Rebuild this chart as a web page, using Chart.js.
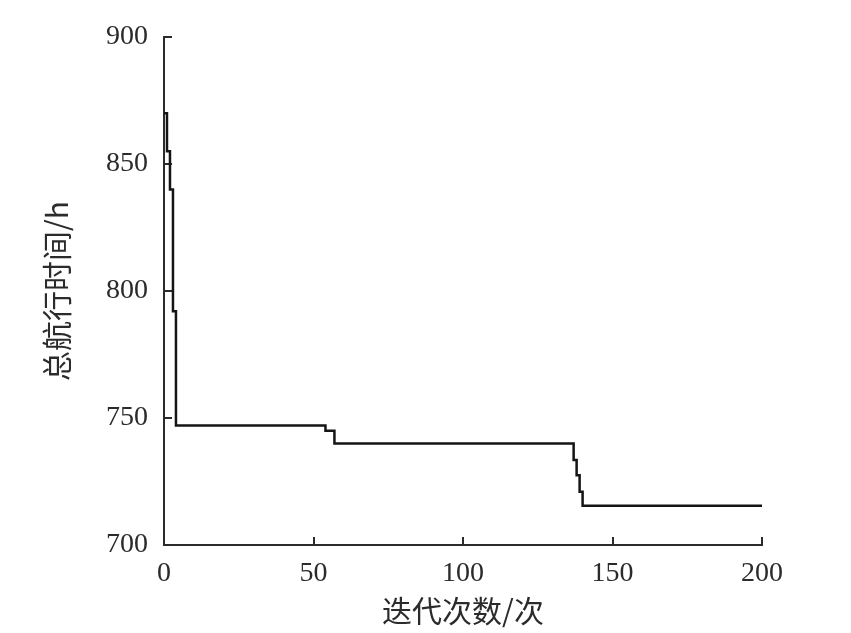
<!DOCTYPE html>
<html>
<head>
<meta charset="utf-8">
<script src="https://cdn.jsdelivr.net/npm/chart.js@4"></script>
<style>
  body { margin: 0; background: #fff; }
  #wrap { width: 851px; height: 633px; }
</style>
</head>
<body>
<div id="wrap"><canvas id="chart"></canvas></div>
<script>
// iteration where the best value changes, and the new best value
const iterations = [0, 1, 2, 3, 4, 54, 57, 137, 138, 139, 140, 200];
const totalTime = [870, 855, 840, 792, 747, 745, 740, 733.5, 727.5, 721, 715.5, 715.5];
const xTitle = '迭代次数/次';
const yTitle = '总航行时间/h';

const axisColor = '#2b2b2b';
const tickFont = { family: "'Liberation Serif', serif", size: 28 };
const titleFont = { family: "'Noto Sans CJK SC', sans-serif", size: 30 };

let points = [];
for (let i = 0; i < iterations.length; i++) {
  points.push({ x: iterations[i], y: totalTime[i] });
}

new Chart(document.getElementById('chart'), {
  type: 'line',
  data: {
    datasets: [{
      data: points,
      borderColor: '#151515',
      borderWidth: 2.5,
      pointRadius: 0,
      stepped: true,
      fill: false
    }]
  },
  options: {
    responsive: true,
    maintainAspectRatio: false,
    animation: false,
    layout: { padding: { top: 37, right: 89, bottom: 0, left: 0 } },
    plugins: { legend: { display: false }, tooltip: { enabled: false } },
    scales: {
      x: {
        type: 'linear',
        min: 0,
        max: 200,
        ticks: { stepSize: 50, color: axisColor, font: tickFont, padding: 20 },
        grid: { drawOnChartArea: false, tickLength: -8, color: axisColor, lineWidth: 2 },
        border: { color: axisColor, width: 2 },
        title: { display: true, text: xTitle, color: axisColor, font: titleFont, padding: { top: 0, bottom: 4 } },
        afterFit: s => { s.height = 88; }
      },
      y: {
        min: 700,
        max: 900,
        ticks: { stepSize: 50, color: axisColor, font: tickFont, padding: 24 },
        grid: { drawOnChartArea: false, tickLength: -8, color: axisColor, lineWidth: 2 },
        border: { color: axisColor, width: 2 },
        title: { display: true, text: yTitle, color: axisColor, font: titleFont, padding: { top: 39, bottom: 0 } },
        afterFit: s => {
          s.width = 164;
          s.paddingTop = 17;
          s.paddingBottom = 17;
        }
      }
    }
  }
});
</script>
</body>
</html>
